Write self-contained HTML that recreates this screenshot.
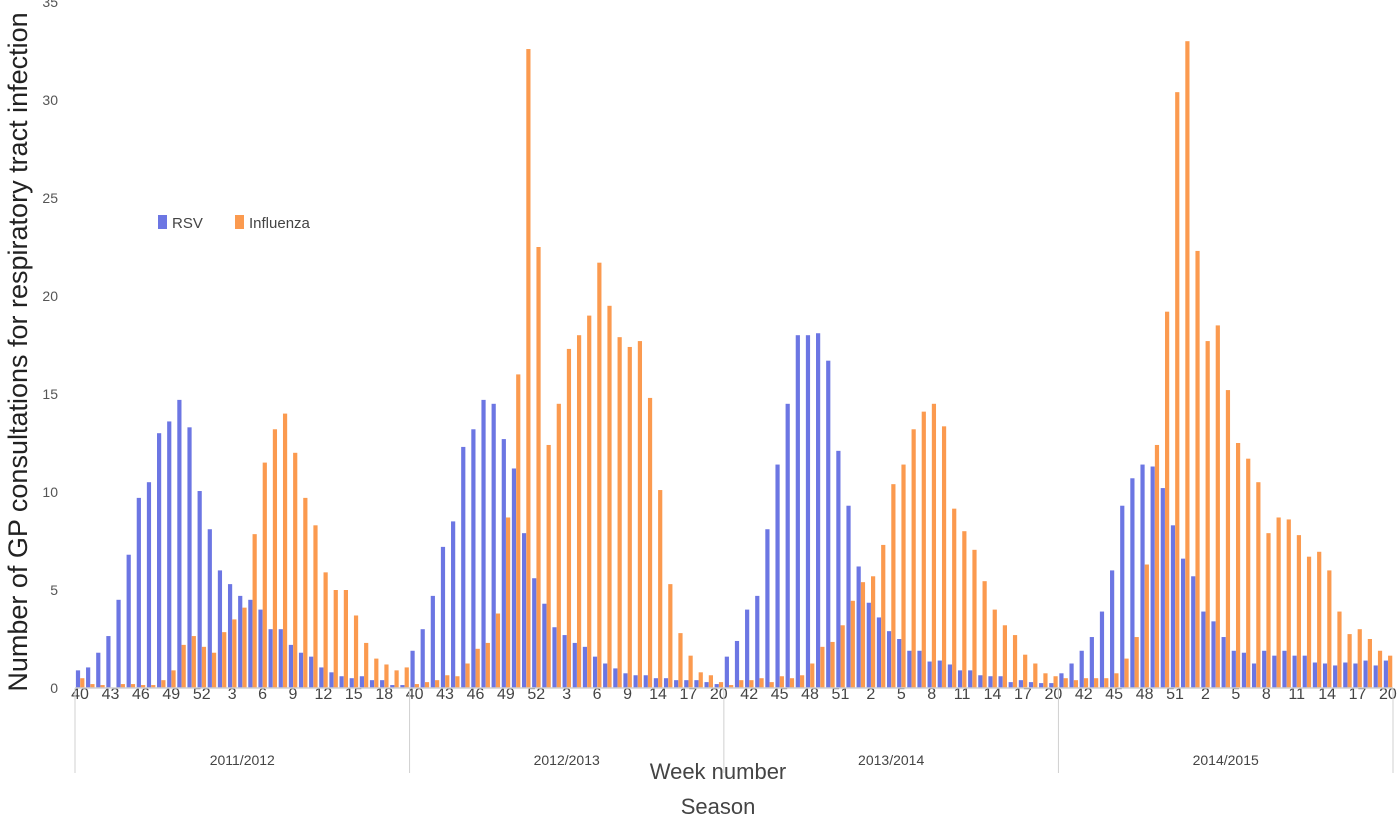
<!DOCTYPE html>
<html><head><meta charset="utf-8"><style>
body{margin:0;background:#fff;}
svg{display:block;font-family:"Liberation Sans",sans-serif;}
</style></head><body>
<svg id="chart" width="1400" height="817">
<g id="bars"></g>
<g id="axis"></g>
<g id="yaxis"></g>
<text x="18" y="352" transform="rotate(-90 18 352)" text-anchor="middle" dominant-baseline="central" font-size="27" fill="#222">Number of GP consultations for respiratory tract infection</text>
<text x="718" y="779" text-anchor="middle" font-size="22" fill="#444">Week number</text>
<text x="718" y="814" text-anchor="middle" font-size="22" fill="#444">Season</text>
<g>
<rect x="158" y="215" width="9" height="14" fill="#6c76e3"/>
<text x="172" y="228" font-size="15" fill="#444">RSV</text>
<rect x="235" y="215" width="9" height="14" fill="#fb9a4f"/>
<text x="249" y="228" font-size="15" fill="#444">Influenza</text>
</g>
</svg>
<script>
const seasons = ["2011/2012","2012/2013","2013/2014","2014/2015"];
const weeks1 = [40,41,42,43,44,45,46,47,48,49,50,51,52,1,2,3,4,5,6,7,8,9,10,11,12,13,14,15,16,17,18,19,20];
const weeks2 = [40,41,42,43,44,45,46,47,48,49,50,51,52,1,2,3,4,5,6,7,8,9,10,12,14,15,16,17,18,19,20];
const weeks3 = [40,41,42,43,44,45,46,47,48,49,50,51,52,1,2,3,4,5,6,7,8,9,10,11,12,13,14,15,16,17,18,19,20];
const weeks4 = [40,41,42,43,44,45,46,47,48,49,50,51,52,1,2,3,4,5,6,7,8,9,10,11,12,13,14,15,16,17,18,19,20];
const rsv1 = [0.9,1.05,1.8,2.65,4.5,6.8,9.7,10.5,13.0,13.6,14.7,13.3,10.05,8.1,6.0,5.3,4.7,4.5,4.0,3.0,3.0,2.2,1.8,1.6,1.05,0.8,0.6,0.5,0.6,0.4,0.4,0.15,0.15];
const flu1 = [0.5,0.2,0.15,0,0.2,0.2,0.15,0.15,0.4,0.9,2.2,2.65,2.1,1.8,2.85,3.5,4.1,7.85,11.5,13.2,14.0,12.0,9.7,8.3,5.9,5.0,5.0,3.7,2.3,1.5,1.2,0.9,1.05];
const rsv2 = [1.9,3.0,4.7,7.2,8.5,12.3,13.2,14.7,14.5,12.7,11.2,7.9,5.6,4.3,3.1,2.7,2.3,2.1,1.6,1.25,1.0,0.75,0.65,0.65,0.5,0.5,0.4,0.4,0.4,0.3,0.2];
const flu2 = [0.2,0.3,0.4,0.65,0.6,1.25,2.0,2.3,3.8,8.7,16.0,32.6,22.5,12.4,14.5,17.3,18.0,19.0,21.7,19.5,17.9,17.4,17.7,14.8,10.1,5.3,2.8,1.65,0.8,0.65,0.3];
const rsv3 = [1.6,2.4,4.0,4.7,8.1,11.4,14.5,18.0,18.0,18.1,16.7,12.1,9.3,6.2,4.35,3.6,2.9,2.5,1.9,1.9,1.35,1.4,1.2,0.9,0.9,0.65,0.6,0.6,0.3,0.4,0.3,0.25,0.25];
const flu3 = [0.15,0.4,0.4,0.5,0.3,0.6,0.5,0.65,1.25,2.1,2.35,3.2,4.45,5.4,5.7,7.3,10.4,11.4,13.2,14.1,14.5,13.35,9.15,8.0,7.05,5.45,4.0,3.2,2.7,1.7,1.25,0.75,0.6];
const rsv4 = [0.75,1.25,1.9,2.6,3.9,6.0,9.3,10.7,11.4,11.3,10.2,8.3,6.6,5.7,3.9,3.4,2.6,1.9,1.8,1.25,1.9,1.65,1.9,1.65,1.65,1.3,1.25,1.15,1.3,1.25,1.4,1.15,1.4];
const flu4 = [0.5,0.4,0.5,0.5,0.5,0.75,1.5,2.6,6.3,12.4,19.2,30.4,33.0,22.3,17.7,18.5,15.2,12.5,11.7,10.5,7.9,8.7,8.6,7.8,6.7,6.95,6.0,3.9,2.75,3.0,2.5,1.9,1.65];
const yTicks = [0,5,10,15,20,25,30,35];

const NS="http://www.w3.org/2000/svg";
const L=75, R=1393, Y0=688, PX=19.6;
const weeksAll=[weeks1,weeks2,weeks3,weeks4];
const rsvAll=[rsv1,rsv2,rsv3,rsv4];
const fluAll=[flu1,flu2,flu3,flu4];
const total=weeksAll.reduce((a,w)=>a+w.length,0);
const cw=(R-L)/total;
const y=v=>Y0-v*PX;
const x=i=>L+i*cw;
function mk(tag,attrs,parent){const e=document.createElementNS(NS,tag);for(const k in attrs)e.setAttribute(k,attrs[k]);parent.appendChild(e);return e;}
const bars=document.getElementById('bars'),ax=document.getElementById('axis'),ya=document.getElementById('yaxis');
let gi=0;
const bounds=[L];
weeksAll.forEach((wk,s)=>{
  wk.forEach((w,j)=>{
    const xl=x(gi);
    const r=mk('rect',{x:xl+0.9,y:y(rsvAll[s][j]),width:4.2,height:rsvAll[s][j]*PX,fill:'#6c76e3'},bars);
    
    
    const f=mk('rect',{x:xl+5.2,y:y(fluAll[s][j]),width:4.2,height:fluAll[s][j]*PX,fill:'#fb9a4f'},bars);
    
    
    if(gi%3===0){
      const t=mk('text',{x:xl+cw/2,y:699,'text-anchor':'middle','font-size':16,fill:'#444'},ax);
      t.textContent=w;
      
      
    }
    gi++;
  });
  bounds.push(x(gi));
});
mk('line',{x1:L,x2:R,y1:Y0,y2:Y0,stroke:'#d0d0d0','stroke-width':1.5},ax);
bounds.forEach(b=>{mk('line',{x1:b,x2:b,y1:Y0,y2:773,stroke:'#d0d0d0','stroke-width':1},ax);});
seasons.forEach((s,i)=>{
  const t=mk('text',{x:(bounds[i]+bounds[i+1])/2,y:765,'text-anchor':'middle','font-size':14,fill:'#444'},ax);
  t.textContent=s;
  
  
});
yTicks.forEach(v=>{
  const t=mk('text',{x:58,y:y(v)+5,'text-anchor':'end','font-size':14,fill:'#555'},ya);
  t.textContent=v;
  
  
});
</script>
</body></html>
